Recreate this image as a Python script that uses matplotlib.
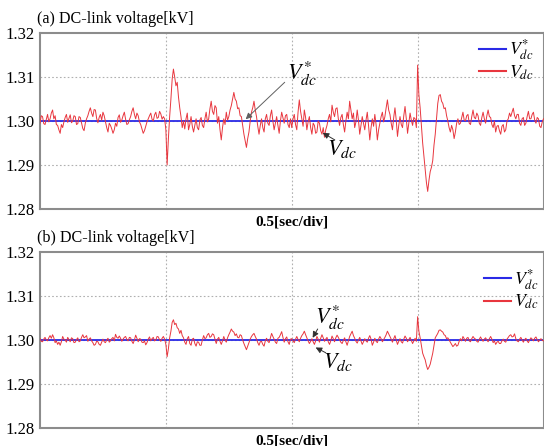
import numpy as np
import matplotlib
matplotlib.use("Agg")
import matplotlib.pyplot as plt

# time axis: 0 .. 2 s, 0.005 s step (0.5 s / division)
t = np.round(np.arange(0, 401) * 0.005, 3)

v_ref = 1.30

# (a) measured DC-link voltage [kV]
vdc_a = [
    # 0.0 - 0.5 s
    1.2995, 1.3012, 1.3010, 1.2994, 1.2992, 1.3004, 1.3015, 1.2998, 1.3005, 1.3018,
    1.3025, 1.3005, 1.3012, 1.2992, 1.2990, 1.2980, 1.2972, 1.2992, 1.2985, 1.2998,
    1.3008, 1.3015, 1.2997, 1.3006, 1.3014, 1.2996, 1.3000, 1.3012, 1.3010, 1.2992,
    1.2994, 1.3010, 1.3008, 1.2995, 1.2983, 1.2978, 1.2995, 1.3005, 1.3012, 1.3022,
    1.3030, 1.3018, 1.3010, 1.3026, 1.3025, 1.3006, 1.2996, 1.3008, 1.3015, 1.3002,
    1.3020, 1.3012, 1.2998, 1.2985, 1.2975, 1.2995, 1.2990, 1.2982, 1.2972, 1.2980,
    1.2995, 1.2988, 1.3008, 1.3014, 1.2997, 1.3002, 1.3012, 1.3020, 1.3004, 1.2992,
    1.2994, 1.3003, 1.3010, 1.3022, 1.3030, 1.3015, 1.3005, 1.3018, 1.3012, 1.2998,
    1.2992, 1.2982, 1.2972, 1.2978, 1.2988, 1.2998, 1.3005, 1.3012, 1.3018, 1.3004,
    1.3000, 1.3014, 1.3020, 1.3006, 1.3008, 1.3022, 1.3016, 1.3004, 1.3010, 1.3005,
    # 0.5 - 1.0 s
    1.2980, 1.2900, 1.2960, 1.3010, 1.3050, 1.3095, 1.3118, 1.3100, 1.3080, 1.3088,
    1.3055, 1.3030, 1.3010, 1.2985, 1.3000, 1.2982, 1.3005, 1.3018, 1.2980, 1.2992,
    1.3010, 1.2988, 1.2975, 1.2990, 1.3005, 1.2985, 1.2980, 1.3002, 1.3008, 1.2990,
    1.2985, 1.3005, 1.3020, 1.2998, 1.3005, 1.3028, 1.3045, 1.3022, 1.3015, 1.3035,
    1.3030, 1.2995, 1.3010, 1.2980, 1.2957, 1.2985, 1.3005, 1.2992, 1.3020, 1.3002,
    1.3010, 1.3025, 1.3035, 1.3050, 1.3065, 1.3050, 1.3045, 1.3028, 1.3030, 1.3012,
    1.3010, 1.2990, 1.2970, 1.2955, 1.2940, 1.2960, 1.2975, 1.3000, 1.3020, 1.3030,
    1.3045, 1.3025, 1.3010, 1.2988, 1.2970, 1.2990, 1.3005, 1.2985, 1.2975, 1.3005,
    1.3015, 1.2995, 1.2990, 1.3012, 1.3025, 1.3000, 1.2980, 1.2995, 1.3010, 1.2990,
    1.2972, 1.3000, 1.3020, 1.3008, 1.2995, 1.3012, 1.3015, 1.2992, 1.2985, 1.3005,
    # 1.0 - 1.5 s
    1.2985, 1.3005, 1.3015, 1.2992, 1.2980, 1.3020, 1.3048, 1.3022, 1.3005, 1.2988,
    1.3025, 1.3008, 1.2980, 1.2998, 1.3010, 1.2985, 1.2970, 1.2995, 1.2990, 1.2972,
    1.2975, 1.3000, 1.2995, 1.2978, 1.2970, 1.2985, 1.2963, 1.2980, 1.2990, 1.3005,
    1.3015, 1.2998, 1.3036, 1.3020, 1.3010, 1.3028, 1.3030, 1.3005, 1.2990, 1.3008,
    1.3015, 1.2992, 1.2975, 1.3000, 1.3020, 1.3005, 1.3045, 1.3025, 1.3005, 1.3018,
    1.2985, 1.2998, 1.3025, 1.3002, 1.2970, 1.2990, 1.3010, 1.2995, 1.2980, 1.3002,
    1.3020, 1.2990, 1.2957, 1.2985, 1.3005, 1.2988, 1.3015, 1.2992, 1.2957, 1.2980,
    1.2995, 1.3010, 1.3020, 1.2998, 1.3010, 1.3030, 1.3048, 1.3025, 1.3015, 1.2995,
    1.2980, 1.3008, 1.3030, 1.3002, 1.2965, 1.2990, 1.3010, 1.2992, 1.2985, 1.3012,
    1.3033, 1.3005, 1.2972, 1.2995, 1.3018, 1.3002, 1.2990, 1.3008, 1.3005, 1.2985,
    # 1.5 - 2.0 s
    1.3127, 1.3060, 1.3030, 1.2990, 1.2950, 1.2920, 1.2890, 1.2860, 1.2840, 1.2865,
    1.2885, 1.2895, 1.2910, 1.2945, 1.2970, 1.3005, 1.3040, 1.3058, 1.3060, 1.3045,
    1.3040, 1.3028, 1.3030, 1.3012, 1.3000, 1.2985, 1.2975, 1.2990, 1.2980, 1.2960,
    1.2975, 1.2995, 1.3005, 1.2992, 1.2995, 1.3008, 1.3020, 1.3002, 1.3000, 1.3012,
    1.3015, 1.2995, 1.2992, 1.3010, 1.3025, 1.3008, 1.3005, 1.3018, 1.3012, 1.2995,
    1.2990, 1.3008, 1.3020, 1.3005, 1.2995, 1.3012, 1.3025, 1.3010, 1.3008, 1.2992,
    1.2985, 1.3000, 1.2975, 1.2988, 1.2990, 1.2978, 1.2970, 1.2988, 1.2992, 1.2975,
    1.2980, 1.3000, 1.3005, 1.3018, 1.3010, 1.3020, 1.3029, 1.3012, 1.3005, 1.3015,
    1.3015, 1.2995, 1.2990, 1.3005, 1.3008, 1.2990, 1.2995, 1.3010, 1.3022, 1.3005,
    1.3005, 1.3015, 1.3020, 1.3002, 1.2995, 1.3008, 1.3005, 1.2988, 1.2985, 1.2998,
    1.3005,
]

# (b) measured DC-link voltage [kV]
vdc_b = [
    # 0.0 - 0.5 s
    1.3003, 1.2997, 1.2996, 1.3002, 1.3006, 1.3000, 1.2998, 1.3005, 1.3010, 1.3004,
    1.3012, 1.3005, 1.2994, 1.2998, 1.2990, 1.2995, 1.2988, 1.2996, 1.3008, 1.3002,
    1.3000, 1.2995, 1.3006, 1.3001, 1.2996, 1.3005, 1.3003, 1.2994, 1.2995, 1.3001,
    1.3005, 1.2996, 1.2998, 1.3006, 1.3012, 1.3005, 1.3007, 1.3010, 1.2997, 1.3002,
    1.3005, 1.2998, 1.2994, 1.2988, 1.2990, 1.2997, 1.2996, 1.2990, 1.2988, 1.2995,
    1.3002, 1.2996, 1.2994, 1.3000, 1.3004, 1.2995, 1.2998, 1.3003, 1.3006, 1.2998,
    1.3013, 1.3006, 1.3004, 1.3009, 1.3004, 1.2997, 1.3002, 1.3006, 1.3008, 1.3001,
    1.2998, 1.3006, 1.3005, 1.2997, 1.2992, 1.3000, 1.3011, 1.3004, 1.2996, 1.3003,
    1.3002, 1.2995, 1.2994, 1.2998, 1.2989, 1.2994, 1.3002, 1.3007, 1.2998, 1.3003,
    1.3006, 1.2998, 1.3000, 1.3008, 1.3007, 1.3000, 1.2997, 1.3004, 1.3008, 1.3002,
    # 0.5 - 1.0 s
    1.2990, 1.2962, 1.2980, 1.3005, 1.3020, 1.3040, 1.3046, 1.3035, 1.3038, 1.3028,
    1.3025, 1.3015, 1.3022, 1.3010, 1.3005, 1.2995, 1.2990, 1.3003, 1.3008, 1.2992,
    1.2988, 1.3002, 1.3004, 1.2992, 1.2986, 1.2996, 1.2995, 1.2988, 1.2988, 1.3000,
    1.3010, 1.3003, 1.3005, 1.3012, 1.3015, 1.3006, 1.3008, 1.3014, 1.3012, 1.3002,
    1.2992, 1.3002, 1.3006, 1.2997, 1.2990, 1.2998, 1.3008, 1.3000, 1.2995, 1.3005,
    1.3012, 1.3018, 1.3025, 1.3020, 1.3018, 1.3010, 1.3014, 1.3006, 1.3005, 1.3012,
    1.3010, 1.3000, 1.2992, 1.2985, 1.2978, 1.2986, 1.2994, 1.3002, 1.3008, 1.3012,
    1.3015, 1.3008, 1.3002, 1.2994, 1.2988, 1.2996, 1.2997, 1.2990, 1.2986, 1.2998,
    1.3004, 1.2997, 1.2994, 1.3005, 1.3015, 1.3008, 1.3002, 1.2995, 1.2992, 1.3004,
    1.3006, 1.3012, 1.3019, 1.3006, 1.2995, 1.3003, 1.3007, 1.2996, 1.2990, 1.3002,
    # 1.0 - 1.5 s
    1.3003, 1.2998, 1.2994, 1.3002, 1.3008, 1.3001, 1.2996, 1.3004, 1.3010, 1.3014,
    1.3020, 1.3012, 1.3005, 1.2998, 1.2992, 1.2997, 1.3003, 1.2996, 1.2990, 1.2998,
    1.3008, 1.3002, 1.2995, 1.3004, 1.3012, 1.3005, 1.2997, 1.3002, 1.3006, 1.2996,
    1.2990, 1.2998, 1.3009, 1.3003, 1.2996, 1.3005, 1.3011, 1.3006, 1.3000, 1.2995,
    1.2992, 1.2999, 1.3005, 1.2996, 1.2988, 1.2998, 1.3008, 1.3014, 1.3020, 1.3010,
    1.3004, 1.2997, 1.2993, 1.3000, 1.3006, 1.2998, 1.2990, 1.2996, 1.3003, 1.2998,
    1.2995, 1.3004, 1.3010, 1.3002, 1.2988, 1.2995, 1.3004, 1.2997, 1.2994, 1.3002,
    1.3008, 1.3003, 1.2996, 1.3001, 1.3006, 1.3012, 1.3020, 1.3014, 1.3008, 1.3002,
    1.2995, 1.3003, 1.3010, 1.3000, 1.2990, 1.2997, 1.3003, 1.2996, 1.2993, 1.3002,
    1.3009, 1.3004, 1.2996, 1.3001, 1.3006, 1.2999, 1.2992, 1.2998, 1.3004, 1.2997,
    # 1.5 - 2.0 s
    1.3053, 1.3020, 1.3005, 1.2988, 1.2970, 1.2962, 1.2955, 1.2942, 1.2933, 1.2938,
    1.2945, 1.2958, 1.2970, 1.2988, 1.3005, 1.3010, 1.3015, 1.3022, 1.3023, 1.3020,
    1.3018, 1.3012, 1.3010, 1.3003, 1.3005, 1.3000, 1.2995, 1.2990, 1.2985, 1.2988,
    1.2992, 1.2986, 1.2988, 1.2997, 1.3003, 1.2998, 1.3008, 1.3003, 1.2997, 1.3004,
    1.3006, 1.2998, 1.2996, 1.3003, 1.3008, 1.3004, 1.3002, 1.2997, 1.2995, 1.3002,
    1.3007, 1.3001, 1.2997, 1.3002, 1.3005, 1.3000, 1.2996, 1.3003, 1.3008, 1.3002,
    1.2994, 1.2998, 1.2990, 1.2995, 1.2997, 1.2992, 1.2992, 1.2998, 1.3002, 1.2997,
    1.2995, 1.3002, 1.3006, 1.3010, 1.3012, 1.3007, 1.3008, 1.3014, 1.3003, 1.2998,
    1.2996, 1.3002, 1.3006, 1.3000, 1.2995, 1.3001, 1.3004, 1.2998, 1.2994, 1.3000,
    1.3005, 1.3002, 1.2998, 1.3004, 1.3007, 1.3001, 1.2996, 1.3000, 1.3003, 1.2999,
    1.2998,
]

grid_t = [0.5, 1.0, 1.5]
y_ticks = [1.28, 1.29, 1.30, 1.31, 1.32]
y_labels = ["1.28", "1.29", "1.30", "1.31", "1.32"]
titles = ["(a) DC-link voltage[kV]", "(b) DC-link voltage[kV]"]
xlabel = "0.5[sec/div]"

plt.rcParams["font.family"] = ["Liberation Serif", "DejaVu Serif"]
plt.rcParams["mathtext.fontset"] = "stix"

W, H = 544, 446
fig = plt.figure(figsize=(W / 100, H / 100), dpi=100)

def fx(px):
    return px / W

def fy(py):
    return 1 - py / H

axes_px = [(40, 33, 543.5, 209), (40, 252, 543.5, 428)]
series = [vdc_a, vdc_b]
legend_anchor = [(0.872, 0.975), (0.882, 0.915)]

red = "#e8363e"
blue = "#2a2ae6"
grey = "#8c8c8c"

for i, (x0, y0, x1, y1) in enumerate(axes_px):
    ax = fig.add_axes([fx(x0), fy(y1), fx(x1 - x0), (y1 - y0) / H])
    ax.set_xlim(0, 2)
    ax.set_ylim(1.28, 1.32)
    for g in grid_t:
        ax.axvline(g, color="#b0b0b0", lw=0.8, ls=(0, (1.5, 2)), zorder=0)
    for yv in [1.29, 1.30, 1.31]:
        ax.axhline(yv, color="#b0b0b0", lw=0.8, ls=(0, (1.5, 2)), zorder=0)
    ax.plot(t, [v_ref] * len(t), color=blue, lw=1.3, zorder=2, label=r"$V_{dc}^{*}$")
    ax.plot(t, series[i], color=red, lw=0.7, zorder=3, label=r"$V_{dc}$")
    ax.set_yticks(y_ticks)
    ax.set_yticklabels(y_labels, fontsize=12)
    ax.set_xticks([])
    ax.tick_params(axis="y", length=0, pad=4)
    for s in ax.spines.values():
        s.set_color(grey)
        s.set_linewidth(1.5)
    leg = ax.legend(loc="upper left", frameon=False, fontsize=13,
                    handlelength=1.5, handletextpad=0.15, labelspacing=0.05,
                    borderpad=0, borderaxespad=0, bbox_to_anchor=legend_anchor[i])
    for h in leg.legend_handles:
        h.set_linewidth(1.5)
    fig.text(fx(37), fy(y0 - 14), titles[i], fontsize=11.6, ha="left", va="center")
    fig.text(fx(292), fy(y1 + 13), xlabel, fontsize=11, fontweight="bold",
             ha="center", va="center")

    if i == 0:
        ax.annotate("", xy=(0.817, 1.3004), xytext=(0.972, 1.3088),
                    arrowprops=dict(arrowstyle="-|>", color="#606060", lw=0.7,
                                    mutation_scale=9, shrinkA=0, shrinkB=0), zorder=5)
        ax.text(1.04, 1.3108, r"$V_{dc}^{*}$", fontsize=16, ha="center", va="center", zorder=6)
        ax.annotate("", xy=(1.123, 1.2973), xytext=(1.171, 1.2957),
                    arrowprops=dict(arrowstyle="-|>", color="#303030", lw=0.7,
                                    mutation_scale=9, shrinkA=0, shrinkB=0), zorder=5)
        ax.text(1.20, 1.2937, r"$V_{dc}$", fontsize=16, ha="center", va="center", zorder=6)
    else:
        ax.annotate("", xy=(1.083, 1.3005), xytext=(1.103, 1.3025),
                    arrowprops=dict(arrowstyle="-|>", color="#303030", lw=0.7,
                                    mutation_scale=9, shrinkA=0, shrinkB=0), zorder=5)
        ax.text(1.15, 1.3050, r"$V_{dc}^{*}$", fontsize=16, ha="center", va="center", zorder=6)
        ax.annotate("", xy=(1.095, 1.2983), xytext=(1.135, 1.2971),
                    arrowprops=dict(arrowstyle="-|>", color="#303030", lw=0.7,
                                    mutation_scale=9, shrinkA=0, shrinkB=0), zorder=5)
        ax.text(1.185, 1.2950, r"$V_{dc}$", fontsize=16, ha="center", va="center", zorder=6)

fig.savefig("out.png", dpi=100)
